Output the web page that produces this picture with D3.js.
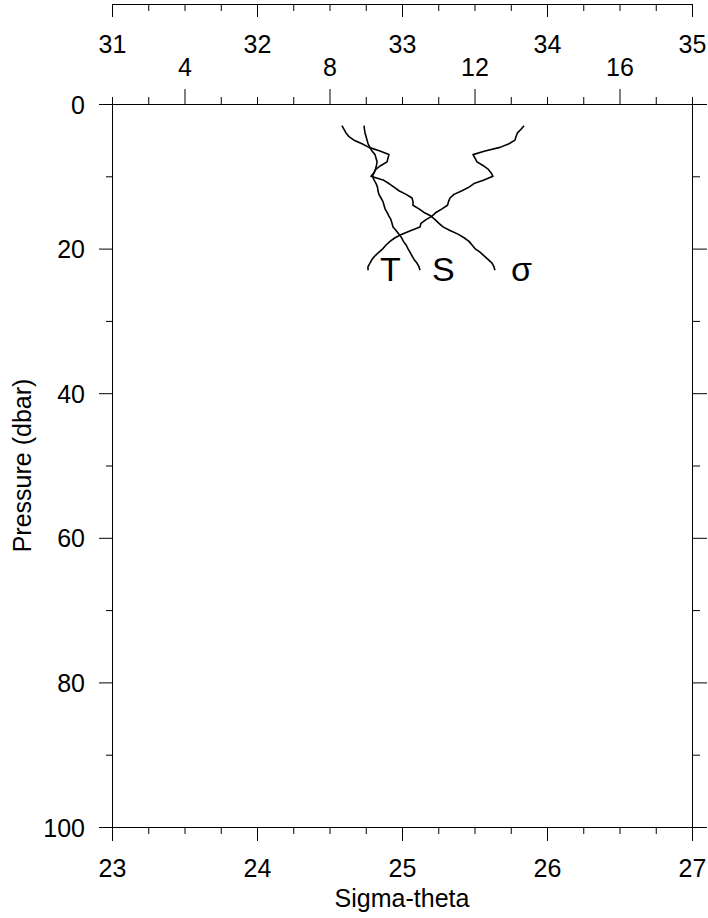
<!DOCTYPE html>
<html>
<head>
<meta charset="utf-8">
<script src="https://cdn.jsdelivr.net/npm/d3@7"></script>
<style>
  html, body { margin: 0; padding: 0; background: #fff; }
  svg { display: block; font-family: "Liberation Sans", Arial, Helvetica, sans-serif; }
  .axis text { font-size: 25px; fill: #000; }
  .axis line, .axis path { stroke: #000; stroke-width: 1; }
</style>
</head>
<body>
<svg id="chart" width="708" height="918"></svg>
<script>
// CTD cast: pressure levels (dbar) shared by all three profiles
const pressure = [3, 3.5, 4, 4.5, 5, 5.5, 6, 6.5, 7, 7.5, 8, 8.5, 9, 9.5, 10, 10.5, 11, 11.5, 12, 12.5,
  13, 13.5, 14, 14.5, 15, 15.5, 16, 16.5, 17, 17.5, 18, 18.5, 19, 19.5, 20, 20.5, 21, 21.5, 22, 22.5, 23];

// Sigma-theta (kg/m^3 - 1000)
const sigmaTheta = [24.586, 24.600, 24.614, 24.634, 24.669, 24.724, 24.772, 24.848, 24.910, 24.903,
  24.897, 24.855, 24.821, 24.807, 24.786, 24.869, 24.910, 24.945, 24.979, 25.028,
  25.069, 25.076, 25.076, 25.117, 25.152, 25.200, 25.228, 25.255, 25.283, 25.331,
  25.386, 25.428, 25.462, 25.483, 25.503, 25.538, 25.566, 25.593, 25.621, 25.634, 25.641];

// Salinity (psu)
const salinity = [32.738, 32.741, 32.745, 32.752, 32.759, 32.766, 32.779, 32.793, 32.814, 32.821,
  32.828, 32.824, 32.817, 32.807, 32.797, 32.807, 32.821, 32.831, 32.834, 32.841,
  32.855, 32.869, 32.876, 32.883, 32.897, 32.910, 32.924, 32.931, 32.938, 32.959,
  32.979, 32.997, 33.010, 33.028, 33.041, 33.055, 33.069, 33.083, 33.103, 33.117, 33.124];

// Temperature (deg C)
const temperature = [13.366, 13.283, 13.186, 13.145, 13.117, 12.952, 12.703, 12.290, 11.959, 12.014,
  12.069, 12.234, 12.372, 12.455, 12.510, 12.262, 11.986, 11.848, 11.655, 11.434,
  11.324, 11.283, 11.255, 11.103, 10.938, 10.828, 10.662, 10.524, 10.497, 10.248,
  10.000, 9.807, 9.669, 9.559, 9.476, 9.366, 9.255, 9.172, 9.117, 9.062, 9.062];

// Axis ticks
const sigmaMajor = [23, 24, 25, 26, 27];
const salMajor = [31, 32, 33, 34, 35];
const tempMajor = [4, 8, 12, 16];
const presMajor = [0, 20, 40, 60, 80, 100];
const presMinor = [10, 30, 50, 70, 90];
const sigmaMinor = d3.range(23, 27.001, 0.25).filter(v => Math.abs(v - Math.round(v)) > 1e-6);
const salMinor = d3.range(31, 35.001, 0.25).filter(v => Math.abs(v - Math.round(v)) > 1e-6);
const tempMinor = d3.range(2, 18.001, 1).filter(v => v % 4 !== 0);

// Profile labels
const profileLabels = ["T", "S", "\u03C3"];

const svg = d3.select("#chart");
const plotLeft = 112, plotRight = 692, plotTop = 104, plotBottom = 827;

const xSig = d3.scaleLinear().domain([23, 27]).range([plotLeft, plotRight]);
const xSal = d3.scaleLinear().domain([31, 35]).range([plotLeft, plotRight]);
const xTem = d3.scaleLinear().domain([2, 18]).range([plotLeft, plotRight]);
const yP = d3.scaleLinear().domain([0, 100]).range([plotTop, plotBottom]);

function axisGroup(axis, tx, ty) {
  return svg.append("g").attr("class", "axis")
    .attr("transform", `translate(${tx},${ty})`).call(axis);
}

// Frame
svg.append("rect").attr("x", plotLeft + 0.5).attr("y", plotTop + 0.5)
  .attr("width", plotRight - plotLeft).attr("height", plotBottom - plotTop)
  .attr("fill", "none").attr("stroke", "#000").attr("stroke-width", 1);

// Bottom: sigma-theta
const gSigMin = axisGroup(d3.axisBottom(xSig).tickValues(sigmaMinor).tickSize(7).tickSizeOuter(0).tickFormat(""), 0, plotBottom);
gSigMin.select(".domain").remove();
const gSig = axisGroup(d3.axisBottom(xSig).tickValues(sigmaMajor).tickSize(14).tickSizeOuter(0).tickFormat(d3.format("d")), 0, plotBottom);
gSig.select(".domain").remove();
gSig.selectAll("text").attr("y", 50).attr("dy", 0);

// Top outer: salinity
const gSalMin = axisGroup(d3.axisBottom(xSal).tickValues(salMinor).tickSize(7).tickSizeOuter(0).tickFormat(""), 0, 4);
gSalMin.select(".domain").remove();
const gSal = axisGroup(d3.axisBottom(xSal).tickValues(salMajor).tickSize(13).tickSizeOuter(0).tickFormat(d3.format("d")), 0, 4);
gSal.selectAll("text").attr("y", 49).attr("dy", 0);

// Top inner: temperature
const gTemMin = axisGroup(d3.axisTop(xTem).tickValues(tempMinor.concat([2, 18])).tickSize(7).tickSizeOuter(0).tickFormat(""), 0, plotTop);
gTemMin.select(".domain").remove();
const gTem = axisGroup(d3.axisTop(xTem).tickValues(tempMajor).tickSize(15).tickSizeOuter(0).tickFormat(d3.format("d")), 0, plotTop);
gTem.select(".domain").remove();
gTem.selectAll("text").attr("y", -28).attr("dy", 0);

// Left: pressure
const gPMin = axisGroup(d3.axisLeft(yP).tickValues(presMinor).tickSize(6).tickSizeOuter(0).tickFormat(""), plotLeft, 0);
gPMin.select(".domain").remove();
const gP = axisGroup(d3.axisLeft(yP).tickValues(presMajor).tickSize(13).tickSizeOuter(0).tickFormat(d3.format("d")), plotLeft, 0);
gP.select(".domain").remove();
gP.selectAll("text").attr("x", -27).attr("dy", "0.36em");

// Right: pressure ticks only
const gRMin = axisGroup(d3.axisRight(yP).tickValues(presMinor).tickSize(8).tickSizeOuter(0).tickFormat(""), plotRight, 0);
gRMin.select(".domain").remove();
const gR = axisGroup(d3.axisRight(yP).tickValues(presMajor).tickSize(15).tickSizeOuter(0).tickFormat(""), plotRight, 0);
gR.select(".domain").remove();

// Axis titles
svg.append("text").attr("x", (plotLeft + plotRight) / 2).attr("y", 907)
  .attr("text-anchor", "middle").attr("font-size", 25).text("Sigma-theta");
svg.append("text").attr("transform", `translate(31,${(plotTop + plotBottom) / 2}) rotate(-90)`)
  .attr("text-anchor", "middle").attr("font-size", 25).text("Pressure (dbar)");

// Profiles
const profiles = [
  { values: temperature, x: xTem, label: profileLabels[0], dx: 12 },
  { values: salinity, x: xSal, label: profileLabels[1], dx: 12 },
  { values: sigmaTheta, x: xSig, label: profileLabels[2], dx: 16 }
];

profiles.forEach(p => {
  const line = d3.line().x(d => p.x(d)).y((d, i) => yP(pressure[i]));
  svg.append("path").datum(p.values).attr("d", line)
    .attr("fill", "none").attr("stroke", "#000").attr("stroke-width", 1.6)
    .attr("stroke-linejoin", "round");
  const n = p.values.length - 1;
  svg.append("text").attr("x", p.x(p.values[n]) + p.dx).attr("y", 281)
    .attr("font-size", 34).text(p.label);
});
</script>
</body>
</html>
